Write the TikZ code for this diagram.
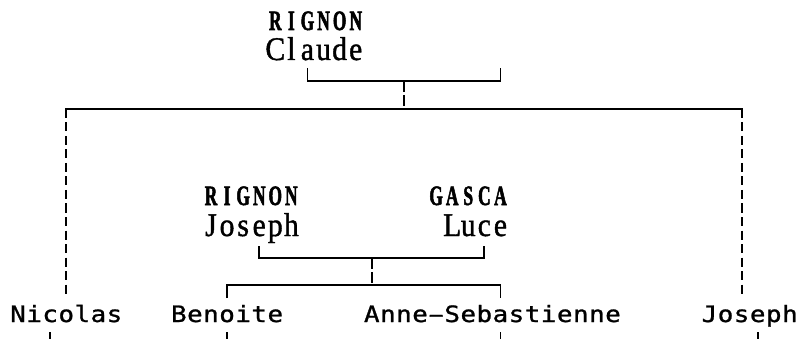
\documentclass[tikz,border=0pt]{standalone}
\usepackage{fontspec}
\setmainfont{Liberation Serif}
\newfontfamily\serifcells[FakeStretch=0.9,FakeBold=1.2]{Liberation Serif}
\newfontfamily\boldcells[FakeStretch=0.62,FakeBold=1.8]{Liberation Serif}
\newfontfamily\monocells[FakeStretch=1.15,FakeBold=1.1]{DejaVu Sans Mono}
\newlength\cw \setlength\cw{16.08pt}
\makeatletter
\def\cells@end{cells@end}
\def\cells#1{\cells@i#1\cells@end}
\def\cells@i#1{\ifx\cells@end#1\else\makebox[\cw]{#1}\expandafter\cells@i\fi}
\makeatother
\newcommand\hyph{\scalebox{1.9}[1]{-}}
\tikzset{
  surname/.style={anchor=base west, inner sep=0pt, outer sep=0pt, font=\boldcells\bfseries\fontsize{28}{32}\selectfont},
  given/.style={anchor=base west, inner sep=0pt, outer sep=0pt, font=\serifcells\fontsize{33}{36}\selectfont},
  child/.style={anchor=base west, inner sep=0pt, outer sep=0pt, font=\monocells\fontsize{22.5}{26}\selectfont},
  tree/.style={line width=1.8pt, line cap=butt, line join=miter, color=black},
  bar/.style={tree, line cap=rect},
  dropline/.style={tree, dash pattern=on 11pt off 3pt},
  dline/.style={tree, dash pattern=on 9pt off 4.5pt}
}
\begin{document}
\begin{tikzpicture}[x=1pt,y=-1pt]
\useasboundingbox (0,0) rectangle (800,339);
% people
\node[surname] (claudeS) at (267.28,30) {\cells{RIGNON}};
\node[given] (claudeF) at (267.28,60) {\cells{Claude}};
\node[surname] (josephS) at (202.96,205) {\cells{RIGNON}};
\node[given] (josephF) at (202.96,236) {\cells{Joseph}};
\node[surname,anchor=base east] (luceS) at (508.48,205) {\cells{GASCA}};
\node[given,anchor=base east] (luceF) at (508.48,236) {\cells{Luce}};
\node[child] (nicolas) at (10,322) {\cells{Nicolas}};
\node[child] (benoite) at (170.8,322) {\cells{Benoite}};
\node[child] (anne) at (363.76,322) {\cells{Anne\hyph Sebastienne}};
\node[child] (josephC) at (701.44,322) {\cells{Joseph}};
% junction points
\coordinate (cl1) at (307.48,68);
\coordinate (cl2) at (500.44,68);
\coordinate (cmid) at (403.96,81);
\coordinate (mtop) at (403.96,109);
\coordinate (mL) at (66.28,297);
\coordinate (mR) at (741.64,297);
\coordinate (jl1) at (259.24,246);
\coordinate (jl2) at (484.36,246);
\coordinate (jmid) at (371.8,258);
\coordinate (kbar) at (371.8,285);
\coordinate (kL) at (227.08,298);
\coordinate (kR) at (500.44,298);
\coordinate (nicD) at (50.2,332);
\coordinate (benD) at (227.08,332);
\coordinate (anneD) at (500.44,332);
\coordinate (josD) at (757.72,332);
% Claude's family
\draw[tree] (cl1) -- (cl1 |- cmid) -- (cl2 |- cmid) -- (cl2);
\draw[dropline] (cmid) -- (mtop);
\draw[bar] (mL |- mtop) -- (mR |- mtop);
\draw[dline] (mL |- mtop) -- (mL);
\draw[dline] (mR |- mtop) -- (mR);
% Joseph & Luce
\draw[tree] (jl1) -- (jl1 |- jmid) -- (jl2 |- jmid) -- (jl2);
\draw[dropline] (jmid) -- (kbar);
\draw[tree] (kL) -- (kL |- kbar) -- (kR |- kbar) -- (kR);
% lines to descendants
\draw[tree] (nicD) -- ++(0,7);
\draw[tree] (benD) -- ++(0,7);
\draw[tree] (anneD) -- ++(0,7);
\draw[tree] (josD) -- ++(0,7);
\end{tikzpicture}
\end{document}
